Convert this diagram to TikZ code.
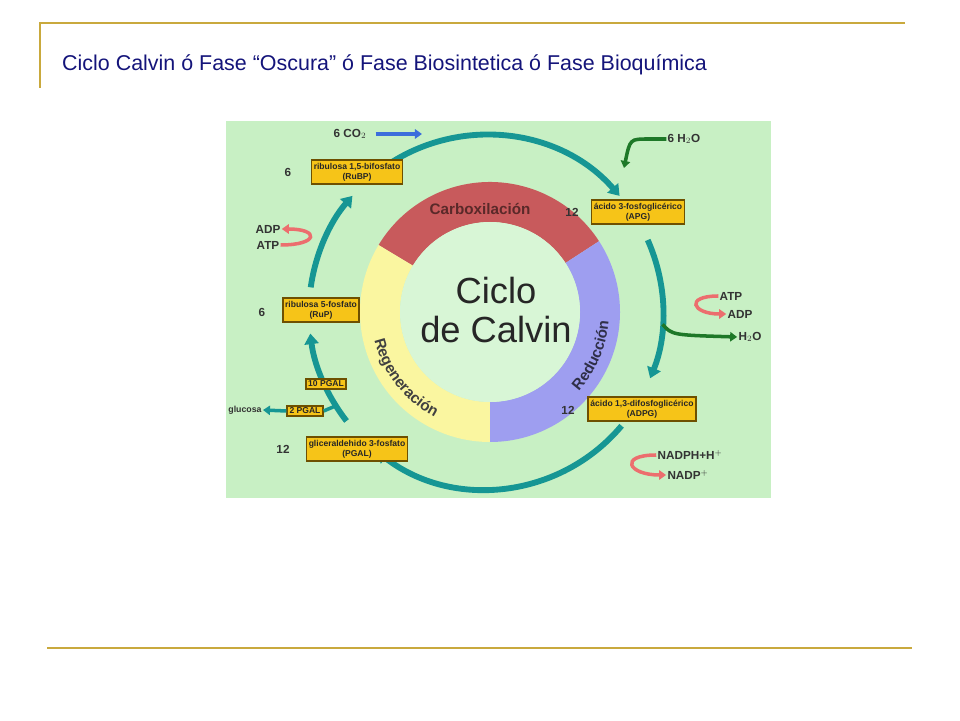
\documentclass[tikz,border=0pt]{standalone}
\usepackage{fontspec}
\setsansfont{Liberation Sans}
\usetikzlibrary{arrows.meta,decorations.text,calc}
\definecolor{gold}{RGB}{201,169,61}
\definecolor{navy}{RGB}{20,20,122}
\definecolor{bggreen}{RGB}{200,240,196}
\definecolor{palegreen}{RGB}{216,246,214}
\definecolor{teal2}{RGB}{22,150,148}
\definecolor{ringred}{RGB}{200,90,92}
\definecolor{ringblue}{RGB}{158,158,240}
\definecolor{ringyellow}{RGB}{250,246,160}
\definecolor{boxfill}{RGB}{246,196,24}
\definecolor{boxline}{RGB}{110,80,0}
\definecolor{pinkar}{RGB}{236,110,110}
\definecolor{greenar}{RGB}{30,120,40}
\definecolor{bluear}{RGB}{60,110,220}
\begin{document}
\begin{tikzpicture}[x=0.3mm,y=0.3mm]
\tikzset{box style/.style={draw=boxline, fill=boxfill, line width=1.5pt, inner xsep=2pt, inner ysep=2.5pt,
                 font=\sffamily\bfseries\fontsize{7.3}{8.8}\selectfont, align=center, text=black!85},
         label style/.style={font=\sffamily\bfseries\fontsize{10}{11}\selectfont, text=black!80, inner sep=1pt},
         ring text/.style={font=\sffamily\bfseries\fontsize{13}{14}\selectfont},
         cycle arrow/.style={teal2, line width=5pt, -{Triangle[width=12pt,length=9pt]}},
         thin arrow/.style={line width=3pt, -{Triangle[width=8pt,length=6pt]}}}
\useasboundingbox (0,0) rectangle (960,720);

% slide frame
\draw[gold, line width=1.2pt] (40,632) -- (40,697) -- (905,697);
\draw[gold, line width=1.2pt] (47,72) -- (912,72);
\node[anchor=west, text=navy, font=\sffamily\fontsize{18.3}{20}\selectfont, inner sep=0pt] (title) at (62,655)
      {Ciclo Calvin ó Fase “Oscura” ó Fase Biosintetica ó Fase Bioquímica};

% picture
\fill[bggreen] (226,222) rectangle (771,599);
\coordinate (C) at (490,408);
\coordinate (T) at (486,408);
\fill[ringred] ($(C)+(33:130)$) arc[start angle=33, end angle=149, radius=130]
   -- ($(C)+(149:90)$) arc[start angle=149, end angle=33, radius=90] -- cycle;
\fill[ringyellow] ($(C)+(149:130)$) arc[start angle=149, end angle=270, radius=130]
   -- ($(C)+(270:90)$) arc[start angle=270, end angle=149, radius=90] -- cycle;
\fill[ringblue] ($(C)+(-90:130)$) arc[start angle=-90, end angle=33, radius=130]
   -- ($(C)+(33:90)$) arc[start angle=33, end angle=-90, radius=90] -- cycle;
\fill[palegreen] (C) circle[radius=90];

\node[font=\sffamily\fontsize{31}{33}\selectfont, align=center, text=black!85] (centre) at (496,410)
      {Ciclo\\de Calvin};
\node[ring text, text=ringred!45!black] (carbox) at (480,511) {Carboxilación};
\path[decorate, decoration={text along path, text align=center,
      text={|\sffamily\bfseries\fontsize{13}{14}\selectfont\color{black!75}|Regeneración}}]
      ($(C)+(180:119)$) arc[start angle=180, end angle=256, radius=119];
\path[decorate, decoration={text along path, text align=center,
      text={|\sffamily\bfseries\fontsize{13}{14}\selectfont\color{ringblue!30!black}|Reducción}}]
      ($(C)+(-50:119)$) arc[start angle=-50, end angle=4, radius=119];

% cycle
\draw[cycle arrow] ($(T)+(123:177)$) arc[start angle=123, end angle=41, radius=177];
\draw[cycle arrow] ($(T)+(24:177)$) arc[start angle=24, end angle=-22, radius=177];
\draw[cycle arrow] ($(T)+(-40:177)$) arc[start angle=-40, end angle=-128, radius=177];
\draw[cycle arrow] ($(T)+(218:177)$) arc[start angle=218, end angle=187, radius=177];
\draw[cycle arrow] ($(T)+(172:177)$) arc[start angle=172, end angle=139, radius=177];

% compounds
\node[box style] (rubp) at (357,548) {ribulosa 1,5-bifosfato\\(RuBP)};
\node[box style] (apg)  at (638,508) {ácido 3-fosfoglicérico\\(APG)};
\node[box style] (rup)  at (321,410) {ribulosa 5-fosfato\\(RuP)};
\node[box style] (adpg) at (642,311) {ácido 1,3-difosfoglicérico\\(ADPG)};
\node[box style] (pgal) at (357,271) {gliceraldehido 3-fosfato\\(PGAL)};
\node[box style, inner ysep=1.5pt] (pgal10) at (326,336) {10 PGAL};
\node[box style, inner ysep=1.5pt] (pgal2)  at (305,309) {2 PGAL};

\node[label style] (n1) at (288,548) {6};
\node[label style] (n2) at (572,508) {12};
\node[label style] (n3) at (262,408) {6};
\node[label style] (n4) at (568,310) {12};
\node[label style] (n5) at (283,271) {12};

% glucosa branch
\coordinate (branch) at ($(T)+(212:177)$);
\node[label style, font=\sffamily\bfseries\fontsize{7.5}{8}\selectfont] (glucosa) at (245,310) {glucosa};
\draw[teal2, line width=3pt] (branch) -- (pgal2.east);
\draw[teal2, thin arrow] (pgal2.west) -- (glucosa.east);

% inputs and outputs
\node[label style] (co2) at (350,586) {6 CO$_2$};
\coordinate (co2end) at (422,586);
\draw[bluear, thin arrow] (co2.east) ++(8,0) -- (co2end);

\node[label style] (h2oin) at (684,581) {6 H$_2$O};
\coordinate (h2oend) at (624,552);
\draw[greenar, thin arrow] (h2oin.west) -- ++(-18,0) .. controls (630,581) .. (h2oend);

\node[label style] (adpl) at (268,491) {ADP};
\node[label style] (atpl) at (268,475) {ATP};
\draw[pinkar, thin arrow] (atpl.east) .. controls +(38,0) and +(38,0) .. (adpl.east);

\node[label style] (atpr) at (731,424) {ATP};
\node[label style] (adpr) at (740,406) {ADP};
\node[label style] (h2or) at (750,383) {H$_2$O};
\draw[pinkar, thin arrow] (atpr.west) .. controls +(-34,0) and +(-34,0) .. (adpr.west);
\coordinate (h2ostart) at ($(T)+(-4:177)$);
\draw[greenar, thin arrow] (h2ostart) .. controls (672,385) .. (h2or.west);

\node[label style] (nadph) at (690,265) {NADPH+H$^+$};
\node[label style] (nadp)  at (688,245) {NADP$^+$};
\draw[pinkar, thin arrow] (nadph.west) .. controls +(-38,0) and +(-38,0) .. (nadp.west);
\end{tikzpicture}
\end{document}
